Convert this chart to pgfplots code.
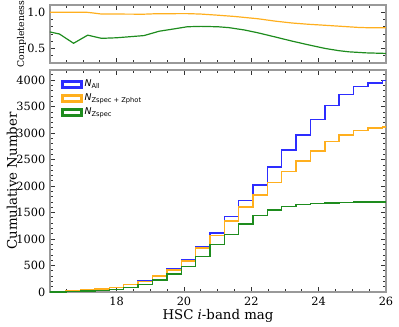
\documentclass[border=0pt]{standalone}
\usepackage{fontspec}
\setmainfont{DejaVu Serif}
\setsansfont{DejaVu Sans}
\usepackage{pgfplots}
\pgfplotsset{compat=1.18}
\definecolor{cblue}{RGB}{45,45,255}
\definecolor{corange}{RGB}{255,175,30}
\definecolor{cgreen}{RGB}{30,140,30}

\pgfplotsset{
  panel/.style={
    scale only axis, width=252pt,
    xmin=16.02, xmax=26,
    xtick={18,20,...,26}, minor xtick={16.5,17,...,25.5},
    tick align=inside, tick pos=both,
    major tick length=4pt, minor tick length=2pt,
    axis line style={black!40, line width=1.1pt},
    every tick/.style={black!80, line width=0.5pt},
    tick label style={font=\fontsize{8.5}{10}\selectfont},
    /pgf/number format/assume math mode=true,
    /pgf/number format/1000 sep={},
  },
  % open box as legend patch, built from two fills
  box/.style={legend image code/.code={
    \fill[fill=#1] (0pt,-2.65pt) rectangle (15.4pt,2.65pt);
    \fill[fill=white] (0.8pt,-1.85pt) rectangle (14.6pt,1.85pt);}},
}

\begin{document}
\begin{tikzpicture}
\useasboundingbox (-37.5pt,-25.5pt) rectangle (261.75pt,219pt);

% completeness panel
\begin{axis}[panel,
  at={(0pt,171.75pt)}, height=43.5pt,
  ymin=0.3, ymax=1.1,
  ytick={0.5,1.0}, minor ytick={0.3,0.4,...,1.1},
  yticklabel style={/pgf/number format/.cd, fixed, fixed zerofill, precision=1},
  xticklabels={},
  ylabel={Completeness},
  ylabel style={font=\fontsize{7}{8}\selectfont, at={(axis description cs:-0.085,0.5)}, anchor=center},
]
\addplot[corange, line width=0.9pt] coordinates {
  (16.0,1.0)(16.5,1.0)(17.1,1.0)(17.3,0.99)(17.55,0.975)(18.0,0.975)
  (18.8,0.973)(19.2,0.98)(20.1,0.981)(20.5,0.975)(20.98,0.96)(21.5,0.942)
  (22.2,0.91)(22.7,0.878)(23.2,0.852)(23.7,0.834)(24.2,0.82)(24.7,0.805)
  (25.2,0.79)(25.6,0.785)(26.0,0.785)};
\addplot[cgreen, line width=0.9pt] coordinates {
  (16.0,0.73)(16.3,0.70)(16.72,0.572)(17.14,0.684)(17.55,0.64)(18.0,0.648)
  (18.81,0.678)(19.26,0.738)(19.7,0.77)(20.1,0.80)(20.5,0.805)(21.0,0.80)
  (21.33,0.788)(21.8,0.755)(22.2,0.716)(22.7,0.66)(23.2,0.603)(23.7,0.55)
  (24.2,0.50)(24.6,0.47)(24.9,0.454)(25.4,0.44)(26.0,0.432)};
\end{axis}

% cumulative counts
\begin{axis}[panel,
  at={(0pt,0pt)}, height=166.5pt,
  ymin=0, ymax=4190,
  ytick={0,500,...,4000}, minor ytick={100,200,...,4100},
  xlabel={HSC \textit{i}-band mag},
  ylabel={Cumulative Number},
  xlabel style={font=\fontsize{10}{12}\selectfont, at={(axis description cs:0.5,-0.108)}, anchor=center},
  ylabel style={font=\fontsize{10}{12}\selectfont, at={(axis description cs:-0.113,0.5)}, anchor=center},
  legend style={draw=none, fill=none, at={(axis description cs:0.02,0.975)}, anchor=north west,
    font=\sffamily\fontsize{7}{8}\selectfont, row sep=1.5pt, nodes={inner sep=1.2pt}},
  legend cell align=left,
]
\addplot[cblue, const plot, line width=1.1pt, box=cblue] coordinates {
  (16.0,5)(16.5,13)(16.93,32)(17.35,57)(17.78,89)(18.21,145)(18.64,213)
  (19.06,312)(19.49,434)(19.92,601)(20.34,852)(20.77,1113)(21.2,1428)
  (21.62,1723)(22.05,2022)(22.48,2355)(22.9,2676)(23.33,2959)(23.76,3252)
  (24.19,3516)(24.61,3730)(25.04,3874)(25.47,3949)(25.9,3990)(26.0,3990)};
\addlegendentry{\textit{N}\textsubscript{All}}
\addplot[corange, const plot, line width=1.1pt, box=corange] coordinates {
  (16.0,5)(16.5,15)(16.93,35)(17.35,60)(17.78,90)(18.21,140)(18.64,200)
  (19.06,302)(19.49,415)(19.92,583)(20.34,827)(20.77,1063)(21.2,1342)
  (21.62,1600)(22.05,1833)(22.48,2069)(22.9,2273)(23.33,2475)(23.76,2665)
  (24.19,2840)(24.61,2965)(25.04,3045)(25.47,3095)(25.9,3115)(26.0,3115)};
\addlegendentry{\textit{N}\textsubscript{Zspec + Zphot}}
\addplot[cgreen, const plot, line width=1.1pt, box=cgreen] coordinates {
  (16.0,3)(16.5,9)(16.93,19)(17.35,32)(17.78,51)(18.21,89)(18.64,145)
  (19.06,225)(19.49,340)(19.92,480)(20.34,672)(20.77,900)(21.2,1088)
  (21.62,1286)(22.05,1440)(22.48,1550)(22.9,1612)(23.33,1648)(23.76,1667)
  (24.19,1680)(24.61,1690)(25.04,1695)(25.47,1698)(25.9,1700)(26.0,1700)};
\addlegendentry{\textit{N}\textsubscript{Zspec}}
\end{axis}
\end{tikzpicture}
\end{document}
